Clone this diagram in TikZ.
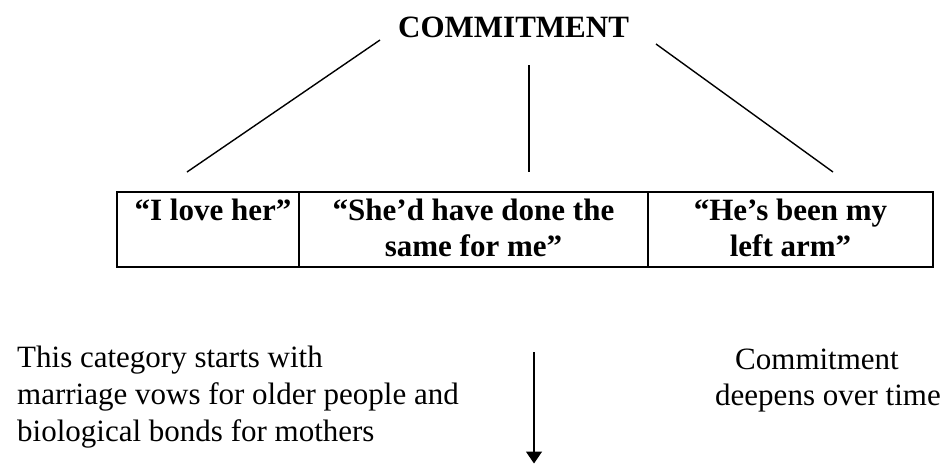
\documentclass[tikz,border=0pt]{standalone}
\usepackage{fontspec}
\setmainfont{Liberation Serif}
\usetikzlibrary{arrows.meta}
\begin{document}
\begin{tikzpicture}[x=1pt,y=-1pt,
  bodytext/.style={font=\fontsize{31}{37}\selectfont, inner sep=0pt, anchor=base west},
  quote/.style={font=\fontsize{31}{37}\selectfont\bfseries, inner sep=0pt, anchor=base},
  cell/.style={draw, line width=2.2pt, minimum height=75pt, inner sep=0pt, outer sep=0pt},
  link/.style={line width=1.4pt},
]
\useasboundingbox (0,0) rectangle (952,464);

% heading
\node[quote, anchor=base west] (title) at (398,37) {COMMITMENT};

% the three quotations in a one-row table
\node[cell, minimum width=182pt] (c1) at (208,229.5) {};
\node[cell, minimum width=349pt] (c2) at (473.5,229.5) {};
\node[cell, minimum width=285pt] (c3) at (790.5,229.5) {};

\node[quote] (q1) at (213,220) {``I love her''};
\node[quote] (q2a) at (473.5,220) {``She'd have done the};
\node[quote] (q2b) at (473.5,256) {same for me''};
\node[quote] (q3a) at (790.5,220) {``He's been my};
\node[quote] (q3b) at (790.5,256) {left arm''};

% lines from the heading down to the table
\coordinate (tl) at (380,40);
\coordinate (tm) at (529,65);
\coordinate (tr) at (656,44);
\coordinate (bl) at (187,172);
\coordinate (bm) at (529,172);
\coordinate (br) at (833,172);
\draw[link] (tl) -- (bl);
\draw[link] (tm) -- (bm);
\draw[link] (tr) -- (br);

% notes below
\node[bodytext] (n1) at (17,367) {This category starts with};
\node[bodytext] (n2) at (17,404) {marriage vows for older people and};
\node[bodytext] (n3) at (17,441) {biological bonds for mothers};

\node[bodytext] (m1) at (735,369) {Commitment};
\node[bodytext] (m2) at (715,405) {deepens over time};

% downward arrow
\coordinate (atop) at (534,352);
\coordinate (atip) at (534,463.5);
\draw[link, -{Triangle[width=16pt,length=12pt]}] (atop) -- (atip);
\end{tikzpicture}
\end{document}
